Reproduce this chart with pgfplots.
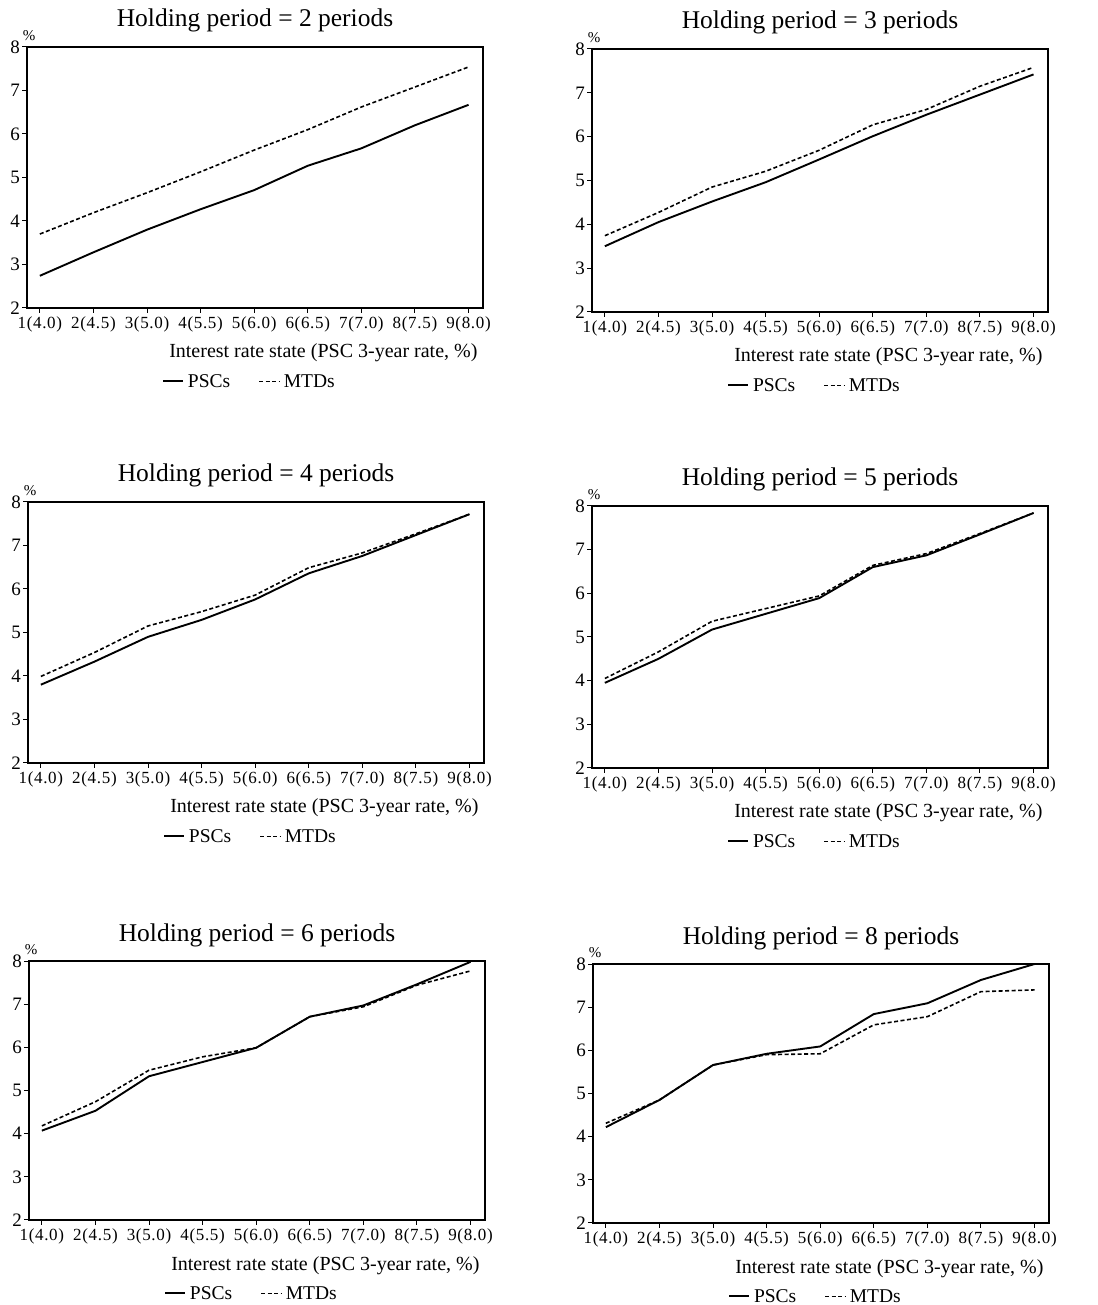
\documentclass[border=0pt]{standalone}
\usepackage{fontspec}
\setmainfont{Liberation Serif}
\usepackage{pgfplots}
\pgfplotsset{compat=1.18}
\pgfplotsset{
  panel/.style={
    scale only axis,
    width=456pt, height=261pt,
    anchor=south west,
    xmin=0.76, xmax=9.27,
    ymin=2, ymax=8,
    xtick={1,2,3,4,5,6,7,8,9},
    xticklabels={{1(4.0)},{2(4.5)},{3(5.0)},{4(5.5)},{5(6.0)},{6(6.5)},{7(7.0)},{8(7.5)},{9(8.0)}},
    ytick={2,3,4,5,6,7,8},
    tick align=outside,
    major tick length=5pt,
    xtick pos=bottom, ytick pos=left,
    tick style={line width=1pt, black},
    axis line style={line width=1.6pt},
    /pgf/number format/assume math mode=true,
    xticklabel style={inner sep=3.5pt, font=\fontsize{17}{17}\selectfont\addfontfeature{LetterSpace=4}},
    yticklabel style={inner sep=2pt, font=\fontsize{19}{19}\selectfont},
    title style={at={(0.5,1)}, anchor=base, yshift=14pt, font=\fontsize{25.5}{25.5}\selectfont},
    every axis x label/.style={at={(rel axis cs:1,0)}, anchor=base east, yshift=-50pt, xshift=-2pt, font=\fontsize{20}{20}\selectfont},
    every axis y label/.style={at={(rel axis cs:0,1)}, anchor=south, xshift=2pt, yshift=3pt, font=\fontsize{15}{15}\selectfont},
    xlabel={Interest rate state (PSC 3-year rate, \%)},
    ylabel={\%},
    legend style={draw=none, fill=none, at={(0.49,0)}, anchor=north, yshift=-60pt,
      font=\fontsize{19.5}{19.5}\selectfont, legend columns=2,
      /tikz/every even column/.append style={column sep=24pt},
      nodes={inner sep=4pt}},
    legend image code/.code={\draw[#1] (0pt,0pt) -- (20pt,0pt);},
  },
  psc/.style={black, line width=1.9pt},
  mtd/.style={black, line width=1.6pt, dash pattern=on 4pt off 2.5pt},
}
\begin{document}
\begin{tikzpicture}[x=1pt,y=1pt]
\useasboundingbox (0,0) rectangle (1097,1305);
% Panel 1
\begin{axis}[panel, at={(27pt,997pt)}, title={Holding period = 2 periods}]
\addplot[psc] coordinates {(1,2.74) (2,3.28) (3,3.80) (4,4.27) (5,4.71) (6,5.27) (7,5.67) (8,6.20) (9,6.67)};
\addplot[mtd] coordinates {(1,3.70) (2,4.19) (3,4.65) (4,5.13) (5,5.63) (6,6.10) (7,6.62) (8,7.08) (9,7.54)};
\legend{PSCs, MTDs}
\end{axis}
% Panel 2
\begin{axis}[panel, at={(592pt,993pt)}, height=263pt, title={Holding period = 3 periods}]
\addplot[psc] coordinates {(1,3.50) (2,4.05) (3,4.52) (4,4.96) (5,5.48) (6,6.01) (7,6.50) (8,6.96) (9,7.42)};
\addplot[mtd] coordinates {(1,3.74) (2,4.27) (3,4.85) (4,5.21) (5,5.69) (6,6.27) (7,6.62) (8,7.15) (9,7.58)};
\legend{PSCs, MTDs}
\end{axis}
% Panel 3
\begin{axis}[panel, at={(28pt,542pt)}, title={Holding period = 4 periods}]
\addplot[psc] coordinates {(1,3.80) (2,4.33) (3,4.90) (4,5.29) (5,5.76) (6,6.36) (7,6.76) (8,7.24) (9,7.72)};
\addplot[mtd] coordinates {(1,3.99) (2,4.54) (3,5.15) (4,5.48) (5,5.86) (6,6.49) (7,6.83) (8,7.27) (9,7.72)};
\legend{PSCs, MTDs}
\end{axis}
% Panel 4
\begin{axis}[panel, at={(592pt,537pt)}, height=262pt, title={Holding period = 5 periods}]
\addplot[psc] coordinates {(1,3.95) (2,4.50) (3,5.17) (4,5.53) (5,5.89) (6,6.60) (7,6.87) (8,7.35) (9,7.84)};
\addplot[mtd] coordinates {(1,4.05) (2,4.66) (3,5.36) (4,5.65) (5,5.94) (6,6.64) (7,6.91) (8,7.37) (9,7.84)};
\legend{PSCs, MTDs}
\end{axis}
% Panel 5
\begin{axis}[panel, at={(29pt,85pt)}, height=259pt, title={Holding period = 6 periods}]
\addplot[psc] coordinates {(1,4.07) (2,4.53) (3,5.33) (4,5.66) (5,5.99) (6,6.71) (7,6.97) (8,7.46) (9,7.98)};
\addplot[mtd] coordinates {(1,4.18) (2,4.74) (3,5.47) (4,5.78) (5,5.99) (6,6.71) (7,6.94) (8,7.44) (9,7.77)};
\legend{PSCs, MTDs}
\end{axis}
% Panel 6
\begin{axis}[panel, at={(593pt,82pt)}, height=259pt, title={Holding period = 8 periods}]
\addplot[psc] coordinates {(1,4.22) (2,4.85) (3,5.66) (4,5.92) (5,6.09) (6,6.84) (7,7.09) (8,7.63) (9,8.00)};
\addplot[mtd] coordinates {(1,4.31) (2,4.85) (3,5.66) (4,5.90) (5,5.92) (6,6.59) (7,6.78) (8,7.36) (9,7.40)};
\legend{PSCs, MTDs}
\end{axis}
\end{tikzpicture}
\end{document}
